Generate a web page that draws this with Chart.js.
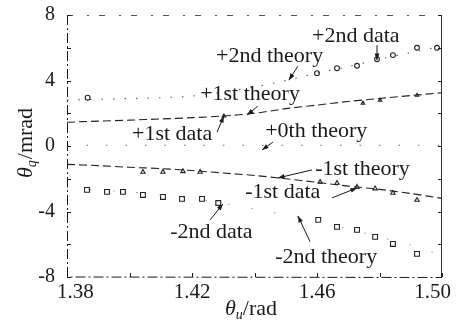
<!DOCTYPE html>
<html>
<head>
<meta charset="utf-8">
<script src="https://cdn.jsdelivr.net/npm/chart.js@4.4.1/dist/chart.umd.min.js"></script>
<style>
  html, body { margin: 0; padding: 0; background: #fff; }
  canvas { display: block; }
</style>
</head>
<body>
<canvas id="orders" width="456" height="323"></canvas>
<script>
// incidence angle grid for the theory curves (rad)
const theoryAngle = [1.38, 1.39, 1.40, 1.41, 1.42, 1.43, 1.44, 1.45, 1.46, 1.47, 1.48, 1.49, 1.50];

// diffraction angle per order (mrad)
const plus2Theory  = [2.8, 2.85, 2.9, 2.95, 3.05, 3.3, 3.6, 4.0, 4.45, 4.85, 5.3, 5.7, 6.1];
const plus1Theory  = [1.45, 1.52, 1.58, 1.65, 1.73, 1.83, 2.0, 2.28, 2.5, 2.72, 2.9, 3.08, 3.25];
const zeroTheory   = [0.05, 0.05, 0.05, 0.05, 0.05, 0.05, 0.05, 0.05, 0.05, 0.05, 0.05, 0.05, 0.05];
const minus1Theory = [-1.12, -1.2, -1.3, -1.38, -1.5, -1.65, -1.8, -2.0, -2.22, -2.45, -2.65, -2.9, -3.2];
const minus2Theory = [-2.55, -2.7, -2.8, -3.0, -3.2, -3.5, -3.85, -4.2, -4.6, -5.05, -5.55, -6.05, -6.7];

// measured points
const plus2DataX  = [1.3866, 1.4600, 1.4664, 1.4728, 1.4792, 1.4843, 1.4920, 1.4984];
const plus2DataY  = [2.95, 4.45, 4.75, 4.9, 5.3, 5.55, 6.0, 6.0];
const plus1DataX  = [1.4302, 1.4747, 1.4802, 1.4920];
const plus1DataY  = [1.83, 2.62, 2.8, 3.1];
const minus1DataX = [1.4043, 1.4107, 1.4171, 1.4226, 1.4610, 1.4664, 1.4728, 1.4786, 1.4843, 1.4920];
const minus1DataY = [-1.59, -1.59, -1.55, -1.59, -2.2, -2.26, -2.5, -2.6, -2.87, -3.3];
const minus2DataX = [1.3864, 1.3928, 1.3979, 1.4043, 1.4107, 1.4168, 1.4232, 1.4284,
                     1.4604, 1.4664, 1.4728, 1.4786, 1.4843, 1.4920];
const minus2DataY = [-2.68, -2.8, -2.8, -2.99, -3.11, -3.23, -3.23, -3.48,
                     -4.51, -4.94, -5.12, -5.55, -5.98, -6.59];

// axis ticks
const xTicks = [1.38, 1.42, 1.46, 1.50];
const yTicks = [-8, -4, 0, 4, 8];

// callouts: text, text anchor (left, baseline), arrow tail, arrow head
const labelText = ['+2nd data', '+2nd theory', '+1st theory', '+1st data', '+0th theory',
                   '-1st theory', '-1st data', '-2nd data', '-2nd theory'];
const labelX = [1.4584, 1.4277, 1.4226, 1.4008, 1.4434, 1.4594, 1.4370, 1.4130, 1.4466];
const labelY = [6.34, 5.12, 2.80, 0.37, 0.55, -1.77, -3.17, -5.61, -7.13];
const arrowFromX = [1.4792, 1.4539, 1.4411, 1.4280, 1.4459, 1.4584, 1.4648, 1.4258, 1.4578];
const arrowFromY = [6.16, 4.88, 2.44, 0.85, 0.24, -1.46, -3.17, -4.51, -5.85];
const arrowToX   = [1.4792, 1.4510, 1.4376, 1.4302, 1.4424, 1.4475, 1.4728, 1.4299, 1.4539];
const arrowToY   = [5.24, 4.02, 1.89, 1.83, -0.24, -1.95, -2.56, -3.54, -4.27];

const SERIF = '"Liberation Serif", "DejaVu Serif", serif';
const INK = '#1a1a1a';

const pts = (xs, ys) => xs.map((x, i) => ({ x, y: ys[i] }));

function theoryLine(ys, dash, color) {
  return {
    data: pts(theoryAngle, ys),
    showLine: true,
    borderColor: color,
    borderWidth: 1.1,
    borderDash: dash,
    pointRadius: 0,
    tension: 0.3
  };
}

function markers(xs, ys, style, radius) {
  return {
    data: pts(xs, ys),
    showLine: false,
    pointStyle: style,
    pointRadius: radius,
    pointBorderWidth: 1.1,
    pointBorderColor: '#222',
    pointBackgroundColor: 'rgba(255,255,255,0)'
  };
}

// frame with inward ticks, drawn like the printed plot box
const framePlugin = {
  id: 'frame',
  afterDraw(chart) {
    const { ctx, chartArea: a, scales: { x, y } } = chart;
    ctx.save();
    ctx.strokeStyle = INK;
    ctx.lineWidth = 1;

    ctx.setLineDash([10, 3, 2, 3]);
    ctx.beginPath();
    ctx.moveTo(a.left + 0.5, a.top);
    ctx.lineTo(a.left + 0.5, a.bottom);
    ctx.lineTo(a.right, a.bottom + 0.5);
    ctx.stroke();

    ctx.strokeStyle = '#555';
    ctx.setLineDash([6, 14, 2, 10]);
    ctx.beginPath();
    ctx.moveTo(a.left, a.top + 0.5);
    ctx.lineTo(a.right, a.top + 0.5);
    ctx.stroke();

    ctx.setLineDash([]);
    ctx.strokeStyle = '#333';
    ctx.beginPath();
    ctx.moveTo(a.right - 0.5, a.top);
    ctx.lineTo(a.right - 0.5, a.bottom);
    ctx.stroke();

    ctx.strokeStyle = INK;
    ctx.beginPath();
    for (let v = -8; v <= 8; v += 2) {
      const py = Math.round(y.getPixelForValue(v)) + 0.5;
      ctx.moveTo(a.left, py); ctx.lineTo(a.left + 4, py);
      ctx.moveTo(a.right, py); ctx.lineTo(a.right - 4, py);
    }
    for (let k = 0; k <= 6; k++) {
      const px = Math.round(x.getPixelForValue(1.38 + k * 0.02)) + 0.5;
      ctx.moveTo(px, a.bottom); ctx.lineTo(px, a.bottom - 4);
    }
    ctx.stroke();

    // x tick labels, end ones pulled inside the figure edge
    ctx.fillStyle = INK;
    ctx.font = '21px ' + SERIF;
    ctx.textBaseline = 'alphabetic';
    xTicks.forEach((v, i) => {
      const px = x.getPixelForValue(v);
      const w = ctx.measureText(v.toFixed(2)).width;
      let left = px - w / 2;
      if (i === 0) left = px - 10;
      if (i === xTicks.length - 1) left = px + 9 - w;
      ctx.fillText(v.toFixed(2), left, 298);
    });
    ctx.restore();
  }
};

// order labels with their pointer arrows
const calloutPlugin = {
  id: 'callouts',
  afterDatasetsDraw(chart) {
    const { ctx, scales: { x, y } } = chart;
    ctx.save();
    ctx.fillStyle = INK;
    ctx.strokeStyle = INK;
    ctx.font = '22px ' + SERIF;
    ctx.textBaseline = 'alphabetic';
    labelText.forEach((t, i) => {
      ctx.fillText(t, x.getPixelForValue(labelX[i]), y.getPixelForValue(labelY[i]));

      const x0 = x.getPixelForValue(arrowFromX[i]), y0 = y.getPixelForValue(arrowFromY[i]);
      const x1 = x.getPixelForValue(arrowToX[i]), y1 = y.getPixelForValue(arrowToY[i]);
      const ang = Math.atan2(y1 - y0, x1 - x0);
      ctx.lineWidth = 1;
      ctx.beginPath();
      ctx.moveTo(x0, y0);
      ctx.lineTo(x1, y1);
      ctx.stroke();
      ctx.beginPath();
      ctx.moveTo(x1, y1);
      ctx.lineTo(x1 - 7 * Math.cos(ang - 0.35), y1 - 7 * Math.sin(ang - 0.35));
      ctx.lineTo(x1 - 7 * Math.cos(ang + 0.35), y1 - 7 * Math.sin(ang + 0.35));
      ctx.closePath();
      ctx.fill();
    });
    ctx.restore();
  }
};

// axis titles with subscripts
const titlePlugin = {
  id: 'axisTitles',
  afterDraw(chart) {
    const { ctx } = chart;
    const big = '22px ' + SERIF, ital = 'italic 22px ' + SERIF, sub = 'italic 14px ' + SERIF;
    ctx.save();
    ctx.fillStyle = INK;
    ctx.textBaseline = 'alphabetic';

    // x title
    let cx = 225, by = 315;
    ctx.font = ital; ctx.fillText('θ', cx, by); cx += ctx.measureText('θ').width;
    ctx.font = sub; ctx.fillText('u', cx, by + 4); cx += ctx.measureText('u').width;
    ctx.font = big; ctx.fillText('/rad', cx, by);

    // y title, rotated
    ctx.translate(32, 178);
    ctx.rotate(-Math.PI / 2);
    cx = 0;
    ctx.font = ital; ctx.fillText('θ', cx, 0); cx += ctx.measureText('θ').width;
    ctx.font = sub; ctx.fillText('q', cx, 4); cx += ctx.measureText('q').width + 1;
    ctx.font = big; ctx.fillText('/mrad', cx, 0);
    ctx.restore();
  }
};

new Chart(document.getElementById('orders'), {
  type: 'scatter',
  data: {
    datasets: [
      theoryLine(plus2Theory, [1.5, 10], '#555'),
      markers(plus2DataX, plus2DataY, 'circle', 2.4),
      theoryLine(plus1Theory, [8, 4], '#222'),
      markers(plus1DataX, plus1DataY, 'triangle', 2),
      theoryLine(zeroTheory, [1.5, 18], '#666'),
      theoryLine(minus1Theory, [8, 4], '#222'),
      markers(minus1DataX, minus1DataY, 'triangle', 2.5),
      theoryLine(minus2Theory, [1.2, 22], '#888'),
      markers(minus2DataX, minus2DataY, 'rect', 3.4)
    ]
  },
  options: {
    responsive: false,
    animation: false,
    events: [],
    layout: { padding: { top: 15, right: 14, left: 0, bottom: 0 } },
    plugins: { legend: { display: false }, tooltip: { enabled: false } },
    scales: {
      x: {
        type: 'linear',
        min: 1.38,
        max: 1.50,
        grid: { display: false },
        border: { display: false },
        afterBuildTicks: s => { s.ticks = xTicks.map(v => ({ value: v })); },
        afterFit: s => { s.height = 46; s.paddingLeft = 0; s.paddingRight = 0; },
        ticks: { display: false }
      },
      y: {
        min: -8,
        max: 8,
        grid: { display: false },
        border: { display: false },
        afterBuildTicks: s => { s.ticks = yTicks.map(v => ({ value: v })); },
        afterFit: s => { s.width = 67; s.paddingTop = 0; s.paddingBottom = 0; },
        ticks: {
          color: INK,
          padding: 4,
          font: { family: SERIF, size: 20 },
          callback: v => String(v)
        }
      }
    }
  },
  plugins: [framePlugin, calloutPlugin, titlePlugin]
});
</script>
</body>
</html>
